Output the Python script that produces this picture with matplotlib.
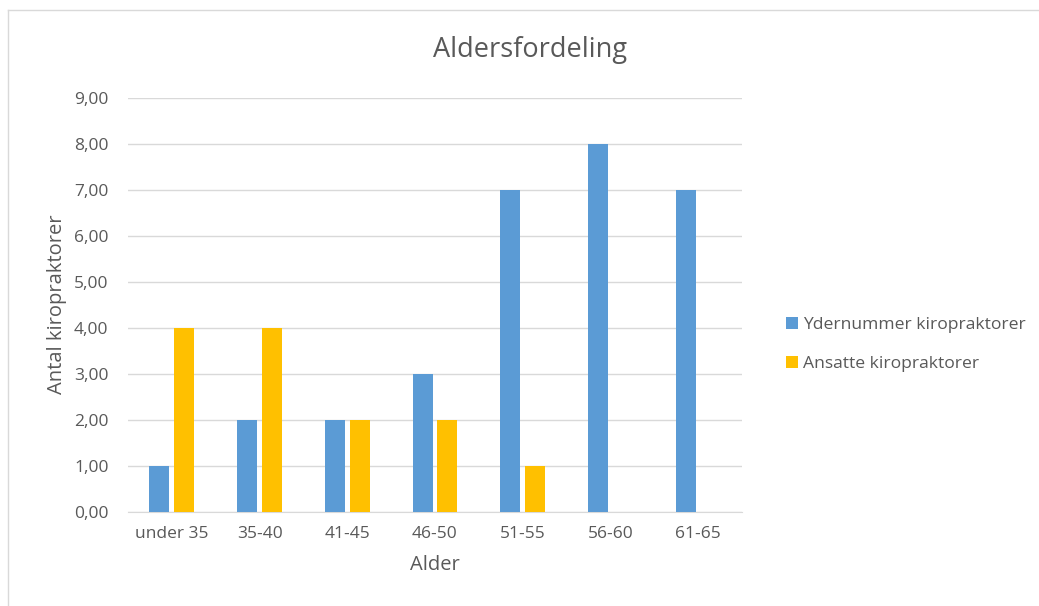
import matplotlib
matplotlib.use("Agg")
import matplotlib.pyplot as plt
from matplotlib.lines import Line2D
import numpy as np

categories = ["under 35", "35-40", "41-45", "46-50", "51-55", "56-60", "61-65"]
ydernummer = [1, 2, 2, 3, 7, 8, 7]
ansatte = [4, 4, 2, 2, 1, 0, 0]
series_names = ["Ydernummer kiropraktorer", "Ansatte kiropraktorer"]
yticks = [0, 1, 2, 3, 4, 5, 6, 7, 8, 9]

plt.rcParams['font.family'] = ['Open Sans', 'DejaVu Sans']
txt = '#595959'

fig = plt.figure(figsize=(10.39, 6.06), dpi=100)
ax = fig.add_axes([128/1039, 1-511.7/606, 614/1039, (511.7-97.7)/606])

x = np.arange(len(categories))
w = 0.228
ax.bar(x - 0.142, ydernummer, width=w, color='#5B9BD5', label=series_names[0], zorder=3)
ax.bar(x + 0.142, ansatte, width=w, color='#FFC000', label=series_names[1], zorder=3)

ax.set_xlim(-0.5, len(categories) - 0.5)
ax.set_ylim(0, 9)
ax.set_yticks(yticks)
ax.set_yticklabels([f"{v:.2f}".replace('.', ',') for v in yticks])
ax.set_xticks(x)
ax.set_xticklabels(categories)
ax.grid(axis='y', color='#d9d9d9', linewidth=1, zorder=0)
for s in ['top', 'right', 'left']:
    ax.spines[s].set_visible(False)
ax.spines['bottom'].set_color('#d9d9d9')
ax.tick_params(axis='both', length=0, colors=txt, labelsize=12.5)
ax.tick_params(axis='y', pad=14)
ax.tick_params(axis='x', pad=10)

ax.set_xlabel("Alder", color=txt, fontsize=14.5, labelpad=10)
ax.set_ylabel("Antal kiropraktorer", color=txt, fontsize=14.5, labelpad=5)
fig.text(530/1039, 1-50/606, "Aldersfordeling", ha='center', va='center', color=txt, fontsize=19.5)

leg = fig.legend(loc='center left', bbox_to_anchor=(770/1039, 1-344.5/606), frameon=False,
                 fontsize=12.6, handlelength=0.7, handleheight=0.7, handletextpad=0.3,
                 labelspacing=1.3, labelcolor=txt)

fig.add_artist(Line2D([8/1039, 8/1039], [0, 1-10/606], color='#d9d9d9', linewidth=1, transform=fig.transFigure))
fig.add_artist(Line2D([8/1039, 1], [1-10/606, 1-10/606], color='#d9d9d9', linewidth=1, transform=fig.transFigure))

fig.savefig("out.png", dpi=100)
